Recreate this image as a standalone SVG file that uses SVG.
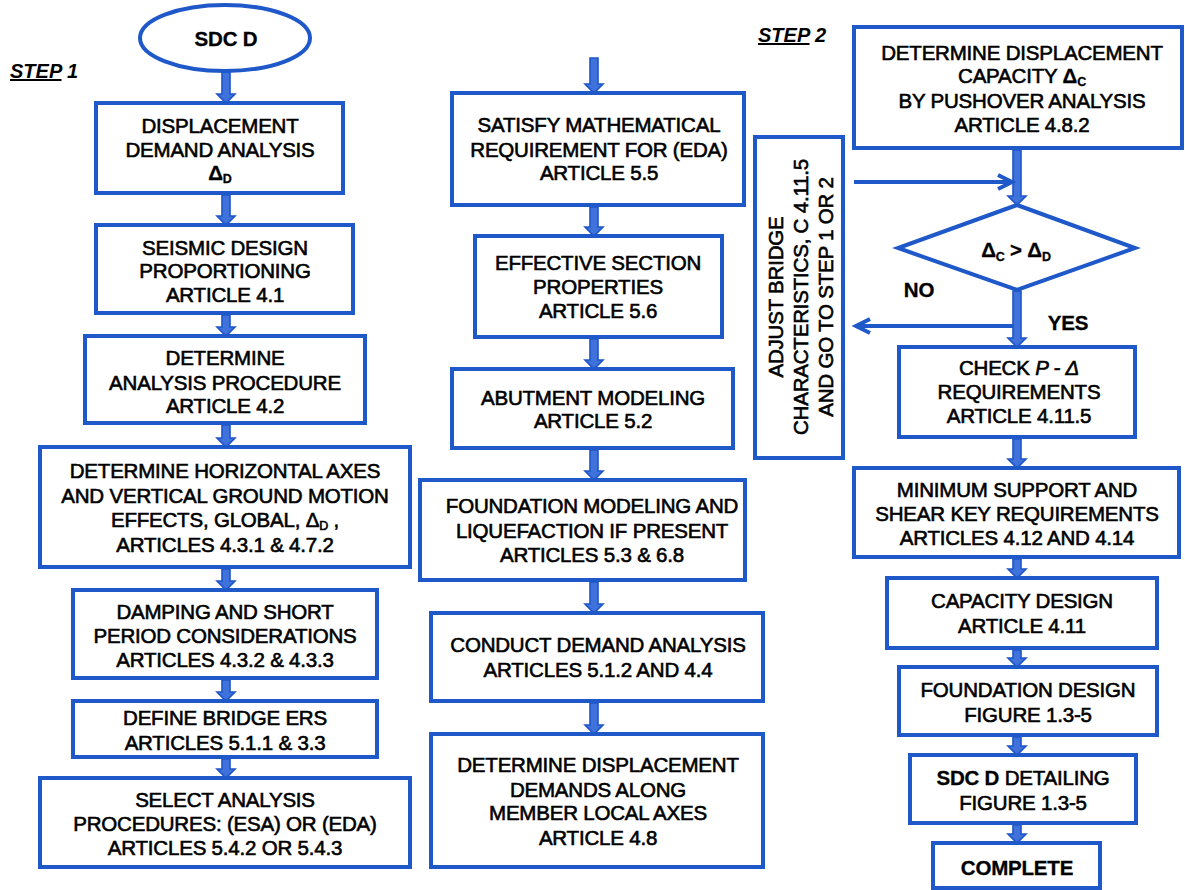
<svg xmlns="http://www.w3.org/2000/svg" width="1185" height="890" viewBox="0 0 1185 890">
<style>
.box{fill:#fff;stroke:#1f58c8;stroke-width:4}
.t{font-family:"Liberation Sans",Arial,sans-serif;font-size:20.5px;fill:#000;text-anchor:middle;stroke:#000;stroke-width:0.6;letter-spacing:-0.2px}
.b{font-weight:bold;stroke-width:0.3}
.bi{font-family:"Liberation Sans",Arial,sans-serif;font-size:20px;font-weight:bold;font-style:italic;fill:#000}
.sub{font-size:12.5px}
.arr{fill:#3f72da;stroke:#1f55c8;stroke-width:1.6;stroke-linejoin:miter}
.thin{fill:none;stroke:#1f58c8;stroke-width:4}
</style>
<rect width="1185" height="890" fill="#fff"/>

<g id="connectors">
<polygon class="arr" points="222,72 230,72 230,94 235,94 226,103 217,94 222,94"/>
<polygon class="arr" points="222,195 230,195 230,216 235,216 226,225 217,216 222,216"/>
<polygon class="arr" points="222,315 230,315 230,327 235,327 226,336 217,327 222,327"/>
<polygon class="arr" points="222,425 230,425 230,438 235,438 226,447 217,438 222,438"/>
<polygon class="arr" points="222,569 230,569 230,581 235,581 226,590 217,581 222,581"/>
<polygon class="arr" points="222,680 230,680 230,692 235,692 226,701 217,692 222,692"/>
<polygon class="arr" points="222,759 230,759 230,769 235,769 226,778 217,769 222,769"/>

<polygon class="arr" points="590,58 598,58 598,84 603,84 594,93 585,84 590,84"/>
<polygon class="arr" points="590,207 598,207 598,227 603,227 594,236 585,227 590,227"/>
<polygon class="arr" points="590,339 598,339 598,360 603,360 594,369 585,360 590,360"/>
<polygon class="arr" points="590,450 598,450 598,471 603,471 594,480 585,471 590,471"/>
<polygon class="arr" points="590,582 598,582 598,604 603,604 594,613 585,604 590,604"/>
<polygon class="arr" points="590,703 598,703 598,725 603,725 594,734 585,725 590,725"/>

<polygon class="arr" points="1013,150 1021,150 1021,196 1026,196 1017,205 1008,196 1013,196"/>
<polygon class="arr" points="1013,291 1021,291 1021,338 1026,338 1017,347 1008,338 1013,338"/>
<polygon class="arr" points="1013,439 1021,439 1021,459 1026,459 1017,468 1008,459 1013,459"/>
<polygon class="arr" points="1013,559 1021,559 1021,569 1026,569 1017,578 1008,569 1013,569"/>
<polygon class="arr" points="1013,650 1021,650 1021,658 1026,658 1017,667 1008,658 1013,658"/>
<polygon class="arr" points="1013,737 1021,737 1021,746 1026,746 1017,755 1008,746 1013,746"/>
<polygon class="arr" points="1013,825 1021,825 1021,834 1026,834 1017,843 1008,834 1013,834"/>

<line class="thin" x1="854" y1="182" x2="1011" y2="182"/>
<polyline class="thin" points="998,175 1012,182 998,189"/>
<line class="thin" x1="1013" y1="326" x2="857" y2="326"/>
<polyline class="thin" points="870,319 856,326 870,333"/>
</g>

<g id="step1"><text class="bi" x="10" y="78"><tspan text-decoration="underline">STEP</tspan> 1</text></g>
<g id="step2"><text class="bi" x="758" y="42"><tspan text-decoration="underline">STEP</tspan> 2</text></g>

<g id="sdcd">
<ellipse class="box" cx="225" cy="38" rx="85" ry="33"/>
<text class="t b" x="226" y="46">SDC D</text>
</g>

<g id="n1">
<rect class="box" x="96" y="103" width="247" height="90"/>
<text class="t" x="220" y="133">DISPLACEMENT</text>
<text class="t" x="220" y="157">DEMAND ANALYSIS</text>
<text class="t b" x="220" y="180">Δ<tspan class="sub" dy="3">D</tspan></text>
</g>

<g id="n2">
<rect class="box" x="96" y="225" width="257" height="88"/>
<text class="t" x="225" y="255">SEISMIC DESIGN</text>
<text class="t" x="225" y="278">PROPORTIONING</text>
<text class="t" x="225" y="302">ARTICLE 4.1</text>
</g>

<g id="n3">
<rect class="box" x="85" y="336" width="280" height="87"/>
<text class="t" x="225" y="365">DETERMINE</text>
<text class="t" x="225" y="390">ANALYSIS PROCEDURE</text>
<text class="t" x="225" y="413">ARTICLE 4.2</text>
</g>

<g id="n4">
<rect class="box" x="40" y="447" width="370" height="120"/>
<text class="t" x="225" y="478">DETERMINE HORIZONTAL AXES</text>
<text class="t" x="225" y="503">AND VERTICAL GROUND MOTION</text>
<text class="t" x="225" y="527">EFFECTS, GLOBAL, Δ<tspan class="sub" dy="3">D</tspan><tspan dy="-3"> ,</tspan></text>
<text class="t" x="225" y="552">ARTICLES 4.3.1 &amp; 4.7.2</text>
</g>

<g id="n5">
<rect class="box" x="73" y="590" width="304" height="88"/>
<text class="t" x="225" y="619">DAMPING AND SHORT</text>
<text class="t" x="225" y="643">PERIOD CONSIDERATIONS</text>
<text class="t" x="225" y="667">ARTICLES 4.3.2 &amp; 4.3.3</text>
</g>

<g id="n6">
<rect class="box" x="73" y="701" width="304" height="56"/>
<text class="t" x="225" y="725">DEFINE BRIDGE ERS</text>
<text class="t" x="225" y="750">ARTICLES 5.1.1 &amp; 3.3</text>
</g>

<g id="n7">
<rect class="box" x="40" y="778" width="370" height="89"/>
<text class="t" x="225" y="807">SELECT ANALYSIS</text>
<text class="t" x="225" y="831">PROCEDURES: (ESA) OR (EDA)</text>
<text class="t" x="225" y="855">ARTICLES 5.4.2 OR 5.4.3</text>
</g>

<g id="m1">
<rect class="box" x="452" y="93" width="292" height="112"/>
<text class="t" x="599" y="132">SATISFY MATHEMATICAL</text>
<text class="t" x="599" y="157">REQUIREMENT FOR (EDA)</text>
<text class="t" x="599" y="180">ARTICLE 5.5</text>
</g>

<g id="m2">
<rect class="box" x="475" y="236" width="247" height="101"/>
<text class="t" x="598" y="270">EFFECTIVE SECTION</text>
<text class="t" x="598" y="294">PROPERTIES</text>
<text class="t" x="598" y="318">ARTICLE 5.6</text>
</g>

<g id="m3">
<rect class="box" x="452" y="369" width="281" height="79"/>
<text class="t" x="593" y="405">ABUTMENT MODELING</text>
<text class="t" x="593" y="428">ARTICLE 5.2</text>
</g>

<g id="m4">
<rect class="box" x="420" y="480" width="325" height="100"/>
<text class="t" x="592" y="513">FOUNDATION MODELING AND</text>
<text class="t" x="592" y="538">LIQUEFACTION IF PRESENT</text>
<text class="t" x="592" y="562">ARTICLES 5.3 &amp; 6.8</text>
</g>

<g id="m5">
<rect class="box" x="431" y="613" width="332" height="88"/>
<text class="t" x="598" y="652">CONDUCT DEMAND ANALYSIS</text>
<text class="t" x="598" y="677">ARTICLES 5.1.2 AND 4.4</text>
</g>

<g id="m6">
<rect class="box" x="431" y="734" width="332" height="133"/>
<text class="t" x="598" y="772">DETERMINE DISPLACEMENT</text>
<text class="t" x="598" y="797">DEMANDS ALONG</text>
<text class="t" x="598" y="820">MEMBER LOCAL AXES</text>
<text class="t" x="598" y="845">ARTICLE 4.8</text>
</g>

<g id="r1">
<rect class="box" x="854" y="27" width="328" height="121"/>
<text class="t" x="1022" y="60">DETERMINE DISPLACEMENT</text>
<text class="t" x="1022" y="83">CAPACITY <tspan class="b">Δ<tspan class="sub" dy="3">C</tspan></tspan></text>
<text class="t" x="1022" y="108">BY PUSHOVER ANALYSIS</text>
<text class="t" x="1022" y="132">ARTICLE 4.8.2</text>
</g>

<g id="adjust">
<rect class="box" x="755" y="137" width="88" height="321"/>
<text class="t" transform="translate(783,297) rotate(-90)" x="0" y="0">ADJUST BRIDGE</text>
<text class="t" transform="translate(808,297) rotate(-90)" x="0" y="0">CHARACTERISTICS, C 4.11.5</text>
<text class="t" transform="translate(833,297) rotate(-90)" x="0" y="0">AND GO TO STEP 1 OR 2</text>
</g>

<g id="decision">
<polygon class="box" points="1017,205 1135,248 1017,290 898,248"/>
<text class="t b" x="1016" y="257" font-size="21">Δ<tspan class="sub" dy="4">C</tspan><tspan dy="-4"> &gt; Δ</tspan><tspan class="sub" dy="4">D</tspan></text>
</g>

<g id="lbl-no"><text class="t b" x="919" y="297">NO</text></g>
<g id="lbl-yes"><text class="t b" x="1068" y="330">YES</text></g>

<g id="r2">
<rect class="box" x="899" y="347" width="236" height="90"/>
<text class="t" x="1019" y="375">CHECK <tspan font-style="italic">P - Δ</tspan></text>
<text class="t" x="1019" y="399">REQUIREMENTS</text>
<text class="t" x="1019" y="423">ARTICLE 4.11.5</text>
</g>

<g id="r3">
<rect class="box" x="854" y="468" width="325" height="89"/>
<text class="t" x="1017" y="497">MINIMUM SUPPORT AND</text>
<text class="t" x="1017" y="521">SHEAR KEY REQUIREMENTS</text>
<text class="t" x="1017" y="545">ARTICLES 4.12 AND 4.14</text>
</g>

<g id="r4">
<rect class="box" x="887" y="578" width="270" height="70"/>
<text class="t" x="1022" y="608">CAPACITY DESIGN</text>
<text class="t" x="1022" y="633">ARTICLE 4.11</text>
</g>

<g id="r5">
<rect class="box" x="899" y="667" width="258" height="68"/>
<text class="t" x="1028" y="697">FOUNDATION DESIGN</text>
<text class="t" x="1028" y="722">FIGURE 1.3-5</text>
</g>

<g id="r6">
<rect class="box" x="910" y="755" width="226" height="68"/>
<text class="t" x="1023" y="785"><tspan class="b">SDC D</tspan> DETAILING</text>
<text class="t" x="1023" y="810">FIGURE 1.3-5</text>
</g>

<g id="r7">
<rect class="box" x="933" y="843" width="167" height="45"/>
<text class="t b" x="1017" y="875">COMPLETE</text>
</g>
</svg>
